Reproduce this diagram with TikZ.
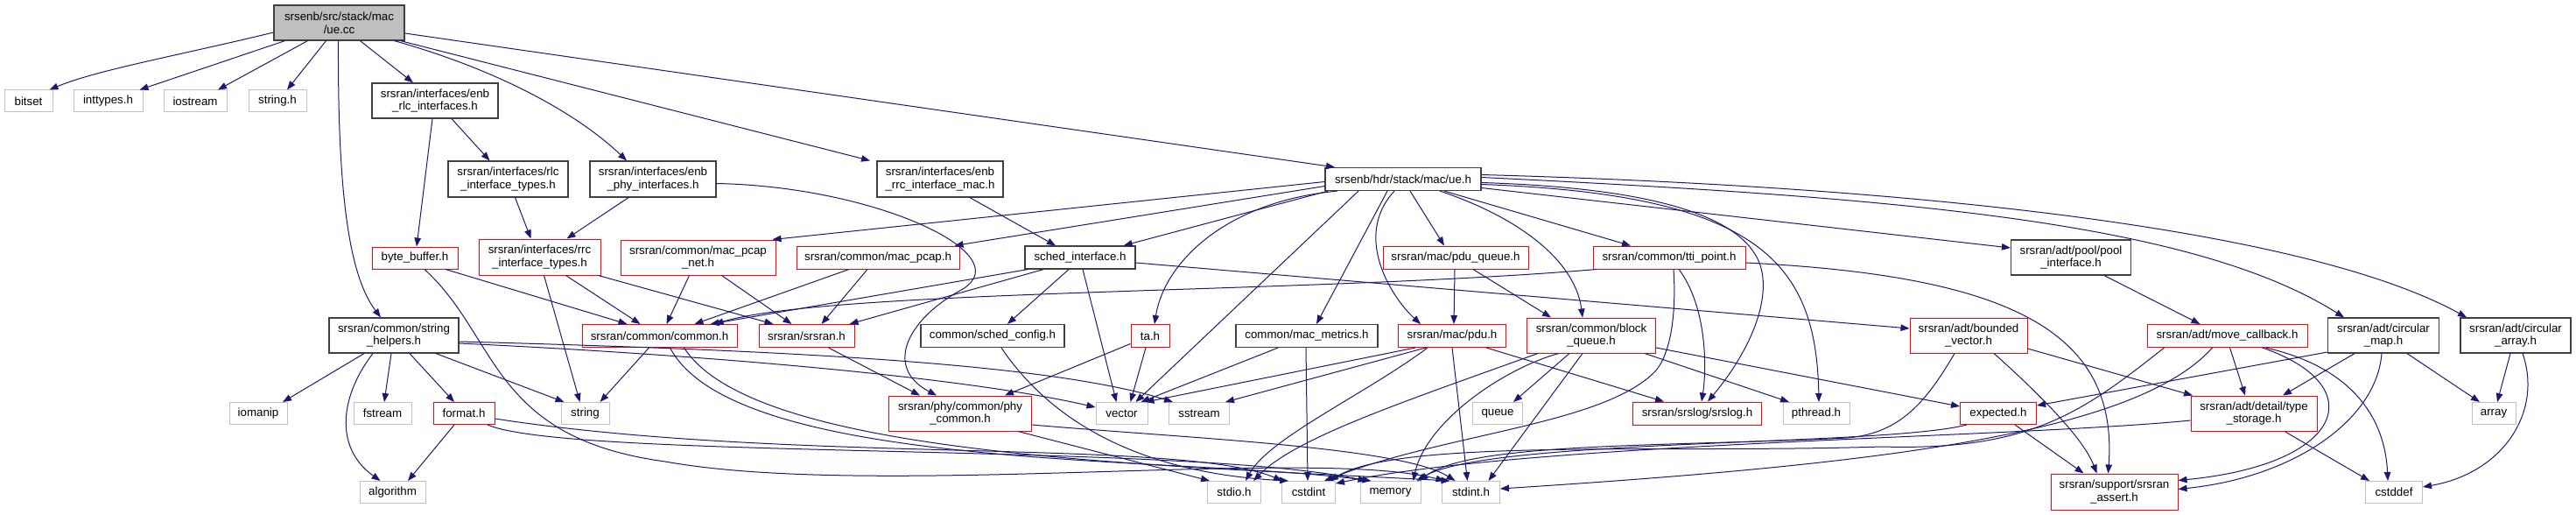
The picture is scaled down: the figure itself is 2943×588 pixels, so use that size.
\documentclass[tikz,border=0pt]{standalone}
\usepackage{fontspec}
\setmainfont{Liberation Sans}
\usetikzlibrary{arrows.meta}
\definecolor{edgec}{HTML}{191970}
\definecolor{gborder}{HTML}{BFBFBF}
\definecolor{bborder}{HTML}{404040}
\definecolor{rborder}{HTML}{FF0000}
\definecolor{rootfill}{HTML}{BFBFBF}
\begin{document}
\begin{tikzpicture}[x=1pt,y=1pt,
  nb/.style={rectangle, draw, fill=white, inner sep=0pt, align=center, font=\fontsize{13.3}{14.7}\selectfont, line width=1pt},
  gbox/.style={nb, draw=gborder},
  bbox/.style={nb, draw=bborder, line width=1.2pt},
  rbox/.style={nb, draw=rborder},
  rootbox/.style={nb, draw=bborder, fill=rootfill, line width=1.2pt},
  sz/.style 2 args={minimum width=#1pt, minimum height=#2pt},
  conn/.style={draw=edgec, line width=1pt, -{Triangle[length=10pt,width=7.5pt]}}
]
\fill[white] (0,0) rectangle (2943,-588);
\useasboundingbox (0,0) rectangle (2943,-588);

% ---------------- nodes ----------------
\node[rootbox, sz={149}{40}] (uecc) at (387.5,-26) {srsenb/src/stack/mac\\/ue.cc};
\node[gbox, sz={55}{25}] (bitset) at (32.5,-115.5) {bitset};
\node[gbox, sz={79}{25}] (inttypes) at (123.5,-115.5) {inttypes.h};
\node[gbox, sz={72}{25}] (iostream) at (223,-115.5) {iostream};
\node[gbox, sz={66}{25}] (stringh) at (317,-115.5) {string.h};
\node[bbox, sz={144}{40}] (enbrlc) at (497,-115) {srsran/interfaces/enb\\\_rlc\_interfaces.h};
\node[bbox, sz={137}{41}] (rlctypes) at (580.5,-204.5) {srsran/interfaces/rlc\\\_interface\_types.h};
\node[bbox, sz={144}{41}] (enbphy) at (746,-204.5) {srsran/interfaces/enb\\\_phy\_interfaces.h};
\node[bbox, sz={144}{41}] (enbrrc) at (1074,-204.5) {srsran/interfaces/enb\\\_rrc\_interface\_mac.h};
\node[bbox, sz={178}{26}] (ueh) at (1603,-204.5) {srsenb/hdr/stack/mac/ue.h};
\node[rbox, sz={98}{25}] (bytebuf) at (474,-294.5) {byte\_buffer.h};
\node[rbox, sz={139}{41}] (rrctypes) at (616.5,-293.5) {srsran/interfaces/rrc\\\_interface\_types.h};
\node[rbox, sz={177}{40}] (pcapnet) at (797.5,-294) {srsran/common/mac\_pcap\\\_net.h};
\node[rbox, sz={186}{26}] (pcap) at (1003,-294) {srsran/common/mac\_pcap.h};
\node[bbox, sz={126}{26}] (sched) at (1234,-294) {sched\_interface.h};
\node[rbox, sz={166}{26}] (pduqueue) at (1663,-294) {srsran/mac/pdu\_queue.h};
\node[rbox, sz={174}{26}] (tti) at (1907,-294) {srsran/common/tti\_point.h};
\node[bbox, sz={137}{40}] (pool) at (2366,-294) {srsran/adt/pool/pool\\\_interface.h};
\node[bbox, sz={148}{40}] (strhelp) at (450,-383) {srsran/common/string\\\_helpers.h};
\node[rbox, sz={177}{26}] (common) at (753.5,-383.5) {srsran/common/common.h};
\node[rbox, sz={109}{26}] (srsranh) at (921.5,-383.5) {srsran/srsran.h};
\node[bbox, sz={164}{26}] (schedcfg) at (1134,-383.5) {common/sched\_config.h};
\node[rbox, sz={44}{26}] (ta) at (1314,-383.5) {ta.h};
\node[bbox, sz={162}{26}] (metrics) at (1493,-383.5) {common/mac\_metrics.h};
\node[rbox, sz={123}{26}] (pdu) at (1659,-383.5) {srsran/mac/pdu.h};
\node[rbox, sz={147}{40}] (blockq) at (1818,-383) {srsran/common/block\\\_queue.h};
\node[rbox, sz={134}{40}] (bvec) at (2249,-383) {srsran/adt/bounded\\\_vector.h};
\node[rbox, sz={183}{26}] (movecb) at (2544.5,-383.5) {srsran/adt/move\_callback.h};
\node[bbox, sz={127}{40}] (cmap) at (2723,-383) {srsran/adt/circular\\\_map.h};
\node[bbox, sz={126}{40}] (carray) at (2874,-383) {srsran/adt/circular\\\_array.h};
\node[gbox, sz={66}{25}] (iomanip) at (295,-472) {iomanip};
\node[gbox, sz={66}{25}] (fstream) at (437,-472) {fstream};
\node[rbox, sz={70}{25}] (format) at (530,-472) {format.h};
\node[gbox, sz={55}{25}] (string) at (668.5,-472) {string};
\node[rbox, sz={163}{40}] (phycommon) at (1097,-472) {srsran/phy/common/phy\\\_common.h};
\node[gbox, sz={59}{25}] (vector) at (1281.5,-472) {vector};
\node[gbox, sz={69}{25}] (sstream) at (1370,-472) {sstream};
\node[gbox, sz={57}{25}] (queue) at (1711,-472) {queue};
\node[rbox, sz={147}{26}] (srslog) at (1939,-472) {srsran/srslog/srslog.h};
\node[gbox, sz={76}{25}] (pthread) at (2075,-472) {pthread.h};
\node[rbox, sz={87}{25}] (expected) at (2283,-472) {expected.h};
\node[rbox, sz={144}{40}] (tstorage) at (2575,-472) {srsran/adt/detail/type\\\_storage.h};
\node[gbox, sz={50}{25}] (array) at (2849,-472) {array};
\node[gbox, sz={75}{25}] (algorithm) at (448.5,-562) {algorithm};
\node[gbox, sz={61}{25}] (stdio) at (1410,-562) {stdio.h};
\node[gbox, sz={61}{25}] (cstdint) at (1495,-562) {cstdint};
\node[gbox, sz={69}{25}] (memory) at (1588.5,-562) {memory};
\node[gbox, sz={66}{25}] (stdint) at (1680.5,-562) {stdint.h};
\node[rbox, sz={145}{41}] (assert) at (2415.5,-561.5) {srsran/support/srsran\\\_assert.h};
\node[gbox, sz={65}{25}] (cstddef) at (2735,-562) {cstddef};

% ---------------- edges ----------------
% ue.cc
\draw[conn] ([yshift=-11]uecc.west) .. controls (210,-62) and (110,-80) .. ([xshift=24]bitset.north);
\draw[conn] ([xshift=-62]uecc.south) -- ([xshift=36]inttypes.north);
\draw[conn] ([xshift=-36]uecc.south) -- ([xshift=26]iostream.north);
\draw[conn] ([xshift=-15]uecc.south) -- ([xshift=11]stringh.north);
\draw[conn] ([xshift=24]uecc.south) -- ([xshift=-25]enbrlc.north);
\draw[conn] ([xshift=-1]uecc.south) .. controls (386,-200) and (395,-310) .. ([xshift=-15]strhelp.north);
\draw[conn] ([xshift=63]uecc.south) .. controls (570,-80) and (660,-130) .. ([xshift=-30]enbphy.north);
\draw[conn] ([xshift=70]uecc.south) -- ([xshift=-80]enbrrc.north);
\draw[conn] ([yshift=-12]uecc.east) -- ([xshift=-78]ueh.north);
% interfaces
\draw[conn] ([xshift=-3]enbrlc.south) -- ([xshift=2]bytebuf.north);
\draw[conn] ([xshift=19]enbrlc.south) -- ([xshift=-21]rlctypes.north);
\draw[conn] ([xshift=8]rlctypes.south) -- ([xshift=-10]rrctypes.north);
\draw[conn] ([xshift=-28]enbphy.south) -- ([xshift=31]rrctypes.north);
\draw[conn] ([yshift=-5]enbphy.east) .. controls (1000,-213) and (1165,-290) .. (1100,-330) .. controls (1035,-365) and (1010,-420) .. ([xshift=-27]phycommon.north);
\draw[conn] ([xshift=34]enbrrc.south) -- ([xshift=-28]sched.north);
% byte_buffer
\draw[conn] ([xshift=35]bytebuf.south) -- ([xshift=-37]common.north);
\draw[conn] ([xshift=11]bytebuf.south) .. controls (570,-385) and (560,-500) .. (760,-527) .. controls (1000,-570) and (1500,-510) .. ([xshift=-30]stdint.north);
% format.h
\draw[conn] ([xshift=-11]format.south) -- ([xshift=17.5]algorithm.north);
\draw[conn] ([yshift=-6]format.east) .. controls (900,-530) and (1350,-500) .. ([xshift=-30]cstdint.north);
\draw[conn] ([xshift=27]format.south) .. controls (650,-525) and (1350,-505) .. ([xshift=-27]memory.north);
% string_helpers
\draw[conn] ([xshift=-34]strhelp.south) -- ([xshift=28]iomanip.north);
\draw[conn] ([xshift=-24]strhelp.south) .. controls (390,-450) and (380,-510) .. ([xshift=-14]algorithm.north);
\draw[conn] ([xshift=-3]strhelp.south) -- ([xshift=2]fstream.north);
\draw[conn] ([xshift=18]strhelp.south) -- ([xshift=-11]format.north);
\draw[conn] ([xshift=48]strhelp.south) -- ([xshift=-24]string.north);
\draw[conn] ([yshift=-9]strhelp.east) .. controls (800,-405) and (1100,-430) .. ([yshift=7]vector.west);
\draw[conn] ([yshift=-7]strhelp.east) .. controls (900,-400) and (1200,-415) .. ([xshift=-30]sstream.north);
% rrc_interface_types, mac_pcap*, sched_interface
\draw[conn] ([xshift=30]rrctypes.south) -- ([xshift=-22]common.north);
\draw[conn] ([xshift=5]rrctypes.south) -- ([xshift=-6]string.north);
\draw[conn] ([xshift=67]rrctypes.south) -- ([xshift=-38]srsranh.north);
\draw[conn] ([xshift=-10]pcapnet.south) -- ([xshift=8]common.north);
\draw[conn] ([xshift=27]pcapnet.south) -- ([xshift=-17]srsranh.north);
\draw[conn] ([xshift=-33]pcap.south) -- ([xshift=40]common.north);
\draw[conn] ([xshift=-12]pcap.south) -- ([xshift=17]srsranh.north);
\draw[conn] ([xshift=-60]sched.south) -- ([xshift=58]common.north);
\draw[conn] ([xshift=-42]sched.south) -- ([xshift=49]srsranh.north);
\draw[conn] ([xshift=-13]sched.south) -- ([xshift=17]schedcfg.north);
\draw[conn] ([xshift=3]sched.south) -- ([xshift=-6]vector.north);
\draw[conn] ([yshift=-6]sched.east) -- ([yshift=8]bvec.west);
% common.h, srsran.h, ta.h, sched_config, mac_metrics, phy_common
\draw[conn] ([xshift=-12]common.south) -- ([xshift=17]string.north);
\draw[conn] ([xshift=12]common.south) .. controls (840,-540) and (1350,-520) .. ([xshift=-22]memory.north);
\draw[conn] ([xshift=28]common.south) .. controls (860,-520) and (1300,-530) .. ([xshift=-24]stdint.north);
\draw[conn] ([xshift=25]srsranh.south) -- ([xshift=-46]phycommon.north);
\draw[conn] ([yshift=-9]ta.west) -- ([xshift=51]phycommon.north);
\draw[conn] ([xshift=-5]ta.south) -- ([xshift=10]vector.north);
\draw[conn] ([xshift=10]schedcfg.south) .. controls (1200,-480) and (1300,-540) .. ([xshift=-23]cstdint.north);
\draw[conn] ([xshift=-33]metrics.south) -- ([xshift=22]vector.north);
\draw[conn] ([xshift=-1]metrics.south) -- ([xshift=-1]cstdint.north);
\draw[conn] ([xshift=66]phycommon.south) -- ([xshift=-28]stdio.north);
\draw[conn] ([yshift=-13]phycommon.east) .. controls (1350,-500) and (1600,-510) .. ([xshift=-18]stdint.north);
% ue.h
\draw[conn] ([yshift=-3]ueh.west) -- ([xshift=-4]pcapnet.north east);
\draw[conn] ([yshift=-8]ueh.west) -- ([xshift=-6]pcap.north east);
\draw[conn] ([xshift=-86]ueh.south) -- ([xshift=-14]sched.north east);
\draw[conn] ([xshift=-75]ueh.south) .. controls (1400,-230) and (1330,-300) .. ([xshift=5]ta.north);
\draw[conn] ([xshift=-51]ueh.south) -- ([xshift=16]vector.north);
\draw[conn] ([xshift=-18]ueh.south) -- ([xshift=11]metrics.north);
\draw[conn] ([xshift=-10]ueh.south) .. controls (1545,-270) and (1590,-340) .. ([xshift=-36]pdu.north);
\draw[conn] ([xshift=8]ueh.south) -- ([xshift=-13]pduqueue.north);
\draw[conn] ([xshift=47]ueh.south) -- ([xshift=-44]tti.north);
\draw[conn] ([xshift=42]ueh.south) .. controls (1740,-250) and (1800,-300) .. ([xshift=-10]blockq.north);
\draw[conn] ([yshift=-4]ueh.east) .. controls (1900,-215) and (1990,-250) .. (2010,-300) .. controls (2025,-340) and (2000,-400) .. ([xshift=12]srslog.north);
\draw[conn] ([yshift=-6]ueh.east) .. controls (2010,-222) and (2075,-300) .. ([xshift=3]pthread.north);
\draw[conn] ([yshift=-10]ueh.east) -- ([yshift=11]pool.west);
\draw[conn] ([yshift=2]ueh.east) .. controls (2150,-225) and (2500,-250) .. ([xshift=-45]cmap.north);
\draw[conn] ([yshift=5]ueh.east) .. controls (2250,-215) and (2650,-270) .. ([xshift=-56]carray.north);
% pdu_queue, tti_point
\draw[conn] ([xshift=-1]pduqueue.south) -- ([xshift=2]pdu.north);
\draw[conn] ([xshift=20]pduqueue.south) -- ([xshift=-46]blockq.north);
\draw[conn] ([xshift=-83]tti.south) .. controls (1500,-335) and (950,-330) .. ([xshift=63]common.north);
\draw[conn] ([xshift=11]tti.south) .. controls (1950,-350) and (1950,-420) .. ([xshift=5]srslog.north);
\draw[conn] ([xshift=5]tti.south) .. controls (1916,-370) and (1905,-410) .. (1890,-425) .. controls (1830,-485) and (1650,-495) .. ([xshift=18]cstdint.north);
\draw[conn] ([yshift=-6]tti.east) .. controls (2300,-315) and (2420,-380) .. ([xshift=-7]assert.north);
% pdu.h
\draw[conn] ([xshift=-42]pdu.south) -- ([xshift=27]vector.north);
\draw[conn] ([xshift=-30]pdu.south) -- ([xshift=30]sstream.north);
\draw[conn] ([xshift=-28]pdu.south) .. controls (1560,-450) and (1450,-500) .. ([xshift=13]stdio.north);
\draw[conn] (pdu.south) -- ([xshift=-4]stdint.north);
\draw[conn] ([xshift=39]pdu.south) -- ([xshift=-38]srslog.north);
% block_queue
\draw[conn] ([xshift=-25]blockq.south) -- ([xshift=18]queue.north);
\draw[conn] ([xshift=61]blockq.south) -- ([xshift=-31]pthread.north);
\draw[conn] ([yshift=-14]blockq.east) -- ([yshift=8]expected.west);
\draw[conn] ([xshift=-10]blockq.south) -- ([xshift=20]stdint.north);
\draw[conn] ([xshift=-37]blockq.south) .. controls (1720,-420) and (1630,-480) .. ([xshift=26]memory.north);
\draw[conn] ([xshift=-61]blockq.south) .. controls (1600,-460) and (1480,-500) .. ([xshift=22]stdio.north);
% pool, move_callback
\draw[conn] ([xshift=38]pool.south) -- ([xshift=-31]movecb.north);
\draw[conn] ([xshift=3]movecb.south) -- ([xshift=-10]tstorage.north);
\draw[conn] ([xshift=40]movecb.south) .. controls (2710,-440) and (2680,-530) .. ([yshift=13]assert.east);
\draw[conn] ([xshift=44]movecb.south) .. controls (2690,-420) and (2725,-480) .. ([xshift=-7]cstddef.north);
\draw[conn] ([xshift=-72]movecb.south) .. controls (2380,-470) and (2320,-515) .. (2150,-510) .. controls (1900,-518) and (1600,-500) .. ([xshift=24]cstdint.north);
\draw[conn] ([xshift=-17]movecb.south) .. controls (2440,-495) and (2150,-530) .. ([yshift=4]stdint.east);
% expected, type_storage, bounded_vector
\draw[conn] ([xshift=19]expected.south) -- ([xshift=-35]assert.north);
\draw[conn] ([xshift=-36]expected.south) .. controls (2150,-510) and (1700,-500) .. ([xshift=30]memory.north);
\draw[conn] ([xshift=35]tstorage.south) -- ([xshift=-28]cstddef.north);
\draw[conn] ([yshift=-8]tstorage.west) .. controls (2300,-500) and (1750,-505) .. ([yshift=10]cstdint.east);
\draw[conn] ([yshift=-15]bvec.east) -- ([xshift=-70]tstorage.north);
\draw[conn] ([xshift=29]bvec.south) .. controls (2330,-450) and (2380,-500) .. ([xshift=-20]assert.north);
\draw[conn] ([xshift=-16]bvec.south) .. controls (2200,-460) and (2170,-495) .. (2110,-500) .. controls (1900,-510) and (1680,-505) .. ([xshift=33]memory.north);
% circular_map, circular_array
\draw[conn] ([yshift=-19]cmap.west) -- ([yshift=9]expected.east);
\draw[conn] ([xshift=-33]cmap.south) -- ([xshift=33]tstorage.north);
\draw[conn] ([xshift=-2]cmap.south) .. controls (2715,-480) and (2620,-545) .. ([yshift=3]assert.east);
\draw[conn] ([xshift=27]cmap.south) -- ([xshift=-16]array.north);
\draw[conn] ([xshift=-6]carray.south) -- ([xshift=4]array.north);
\draw[conn] ([xshift=8]carray.south) .. controls (2905,-470) and (2860,-540) .. ([yshift=6]cstddef.east);
\end{tikzpicture}
\end{document}
